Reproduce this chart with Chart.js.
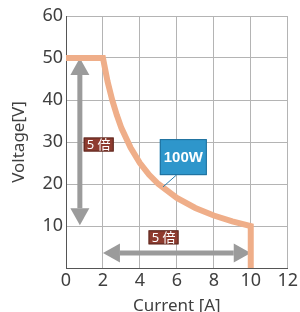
<!DOCTYPE html>
<html>
<head>
<meta charset="utf-8">
<script src="https://cdn.jsdelivr.net/npm/chart.js@4/dist/chart.umd.min.js"></script>
<style>
  html, body { margin: 0; padding: 0; background: #fff; }
  canvas { display: block; }
</style>
</head>
<body>
<canvas id="iv-chart" width="300" height="312"></canvas>
<script>
// Данные кривой (ток, напряжение)
const currentA = [0, 2, 2.25, 2.5, 2.75, 3, 3.5, 4, 4.5, 5, 6, 7, 8, 9, 10, 10];
const voltageV = [50, 50, 44.4, 40, 36.4, 33.3, 28.6, 25, 22.2, 20, 16.7, 14.3, 12.5, 11.1, 10, 0];

// Подписи
const ratioLabel = '5 倍';
const powerLabel = '100W';

// Стрелки и подписи в единицах данных
const vArrow = { x: 0.75, y1: 50, y2: 10.2 };
const hArrow = { y: 3.6, x1: 2, x2: 10 };
const vRatioBox = { x: 1.77, y: 29.4 };
const hRatioBox = { x: 5.28, y: 7.3 };
const powerBox = { x: 6.35, y: 26.4, lineX: 5.25, lineY: 19.3 };

const FONT = "'Noto Sans', 'Noto Sans CJK JP', sans-serif";

// Двойная стрелка
function drawDoubleArrow(ctx, x1, y1, x2, y2) {
  const len = Math.hypot(x2 - x1, y2 - y1);
  const ux = (x2 - x1) / len, uy = (y2 - y1) / len;
  const head = 17, half = 9.5;
  ctx.save();
  ctx.strokeStyle = '#9b9b9b';
  ctx.fillStyle = '#9b9b9b';
  ctx.lineWidth = 5;
  ctx.beginPath();
  ctx.moveTo(x1 + ux * head, y1 + uy * head);
  ctx.lineTo(x2 - ux * head, y2 - uy * head);
  ctx.stroke();
  [[x1, y1, -1], [x2, y2, 1]].forEach(([tx, ty, s]) => {
    const dx = ux * s, dy = uy * s;
    const bx = tx - dx * head, by = ty - dy * head;
    ctx.beginPath();
    ctx.moveTo(tx, ty);
    ctx.lineTo(bx - dy * half, by + dx * half);
    ctx.lineTo(bx + dy * half, by - dx * half);
    ctx.closePath();
    ctx.fill();
  });
  ctx.restore();
}

// Прямоугольник с текстом
function drawBox(ctx, cx, cy, w, h, text, bg, border, font) {
  ctx.save();
  ctx.fillStyle = bg;
  ctx.fillRect(cx - w / 2, cy - h / 2, w, h);
  ctx.strokeStyle = border;
  ctx.lineWidth = 1;
  ctx.strokeRect(cx - w / 2 + 0.5, cy - h / 2 + 0.5, w - 1, h - 1);
  ctx.fillStyle = '#fff';
  ctx.font = font;
  ctx.textAlign = 'center';
  ctx.textBaseline = 'middle';
  ctx.fillText(text, cx, cy + 1);
  ctx.restore();
}

const annotations = {
  id: 'annotations',
  beforeDatasetsDraw(chart) {
    const { ctx, scales: { x, y } } = chart;
    drawDoubleArrow(ctx, x.getPixelForValue(vArrow.x), y.getPixelForValue(vArrow.y1),
      x.getPixelForValue(vArrow.x), y.getPixelForValue(vArrow.y2));
    drawDoubleArrow(ctx, x.getPixelForValue(hArrow.x1), y.getPixelForValue(hArrow.y),
      x.getPixelForValue(hArrow.x2), y.getPixelForValue(hArrow.y));
  },
  afterDatasetsDraw(chart) {
    const { ctx, scales: { x, y } } = chart;
    const bx = x.getPixelForValue(powerBox.x), by = y.getPixelForValue(powerBox.y);
    // выноска к кривой
    ctx.save();
    ctx.strokeStyle = '#2a7fb0';
    ctx.lineWidth = 1;
    ctx.beginPath();
    ctx.moveTo(bx - 7, by + 18);
    ctx.lineTo(x.getPixelForValue(powerBox.lineX), y.getPixelForValue(powerBox.lineY));
    ctx.stroke();
    ctx.restore();
    drawBox(ctx, bx, by, 47, 36, powerLabel, '#2e96cb', '#1f6f9c', "bold 15px 'Liberation Sans', Arial, sans-serif");
    drawBox(ctx, x.getPixelForValue(vRatioBox.x), y.getPixelForValue(vRatioBox.y), 30, 14,
      ratioLabel, '#8e3b2f', '#5a2a22', "13px " + FONT);
    drawBox(ctx, x.getPixelForValue(hRatioBox.x), y.getPixelForValue(hRatioBox.y), 30, 14,
      ratioLabel, '#8e3b2f', '#5a2a22', "13px " + FONT);
  }
};

function createChart() {
  const ctx = document.getElementById('iv-chart').getContext('2d');
  new Chart(ctx, {
    type: 'line',
    data: {
      datasets: [{
        data: currentA.map((c, i) => ({ x: c, y: voltageV[i] })),
        borderColor: '#efae89',
        borderWidth: 6,
        pointRadius: 0,
        fill: false,
        tension: 0
      }]
    },
    options: {
      responsive: false,
      animation: false,
      layout: { padding: { top: 16, right: 10, left: 0, bottom: 0 } },
      plugins: { legend: { display: false }, tooltip: { enabled: false } },
      scales: {
        x: {
          type: 'linear',
          min: 0, max: 12,
          afterFit: (s) => { s.height = 44; },
          ticks: { stepSize: 2, padding: 2, color: '#404040', font: { family: FONT, size: 18 } },
          grid: { color: '#b4b4b4', drawTicks: false },
          border: { color: '#555', width: 1 },
          title: { display: true, text: 'Current [A]', color: '#404040',
                   font: { family: FONT, size: 17 }, padding: { top: 0, bottom: -4 } }
        },
        y: {
          min: 0, max: 60,
          afterFit: (s) => { s.width = 66; },
          ticks: { stepSize: 10, padding: 3, color: '#404040', font: { family: FONT, size: 18 },
                   callback: (v) => (v === 0 ? '' : v) },
          grid: { color: '#b4b4b4', drawTicks: false },
          border: { color: '#555', width: 1 },
          title: { display: true, text: 'Voltage[V]', color: '#404040',
                   font: { family: FONT, size: 17 }, padding: { top: 9, bottom: 0 } }
        }
      }
    },
    plugins: [annotations]
  });
}

window.addEventListener('load', createChart);
</script>
</body>
</html>
